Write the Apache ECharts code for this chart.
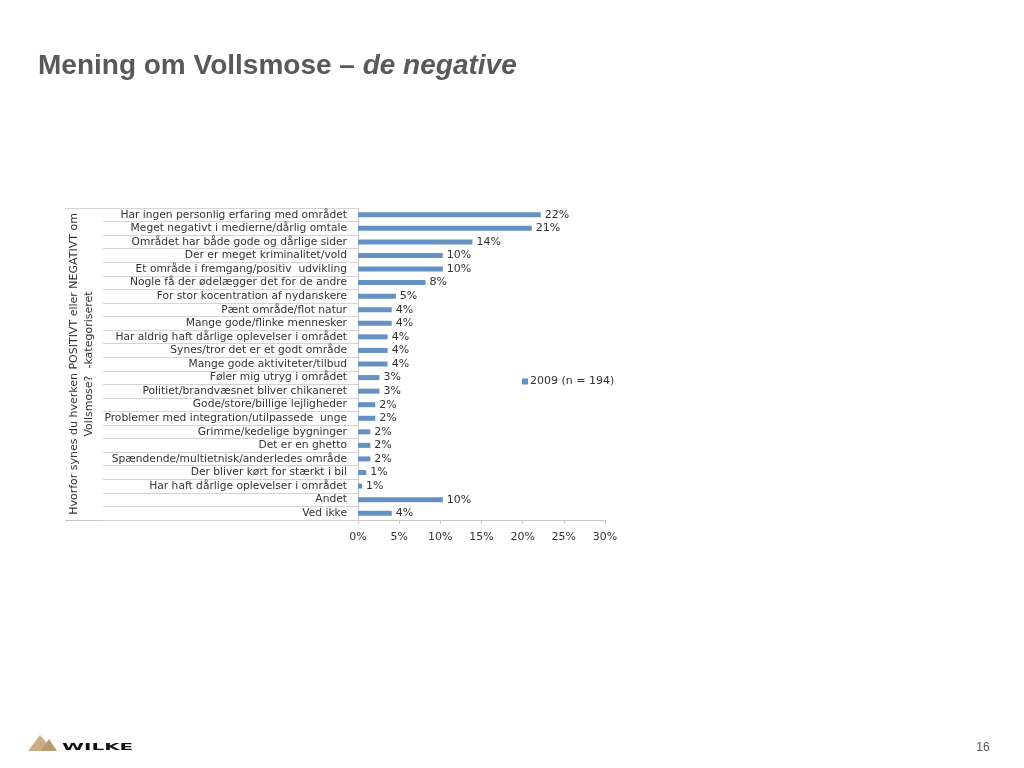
<!DOCTYPE html>
<html>
<head>
<meta charset="utf-8">
<script src="https://cdn.jsdelivr.net/npm/echarts@6/dist/echarts.min.js"></script>
<style>
html,body{margin:0;padding:0;background:#fff;}
#c{width:1024px;height:768px;}
</style>
</head>
<body>
<div id="c"></div>
<script>
var categories = [
  'Har ingen personlig erfaring med området',
  'Meget negativt i medierne/dårlig omtale',
  'Området har både gode og dårlige sider',
  'Der er meget kriminalitet/vold',
  'Et område i fremgang/positiv  udvikling',
  'Nogle få der ødelægger det for de andre',
  'For stor kocentration af nydanskere',
  'Pænt område/flot natur',
  'Mange gode/flinke mennesker',
  'Har aldrig haft dårlige oplevelser i området',
  'Synes/tror det er et godt område',
  'Mange gode aktiviteter/tilbud',
  'Føler mig utryg i området',
  'Politiet/brandvæsnet bliver chikaneret',
  'Gode/store/billige lejligheder',
  'Problemer med integration/utilpassede  unge',
  'Grimme/kedelige bygninger',
  'Det er en ghetto',
  'Spændende/multietnisk/anderledes område',
  'Der bliver kørt for stærkt i bil',
  'Har haft dårlige oplevelser i området',
  'Andet',
  'Ved ikke'
];
var values2009 = [22.2, 21.1, 13.9, 10.3, 10.3, 8.2, 4.6, 4.1, 4.1, 3.6, 3.6, 3.6, 2.6, 2.6, 2.1, 2.1, 1.5, 1.5, 1.5, 1.0, 0.5, 10.3, 4.1];
var valueLabels = ['22%','21%','14%','10%','10%','8%','5%','4%','4%','4%','4%','4%','3%','3%','2%','2%','2%','2%','2%','1%','1%','10%','4%'];
var xTicks = {min: 0, max: 30, interval: 5};
var seriesName = '2009 (n = 194)';
var axisTitle = 'Hvorfor synes du hverken POSITIVT eller NEGATIVT om\nVollsmose?  -kategoriseret';

var chart = echarts.init(document.getElementById('c'), null, {renderer: 'canvas'});
var gridLeft = 358, gridRight = 605, gridTop = 208, gridBottom = 520;
var lineColor = '#C8C8C8';
var font = 'DejaVu Sans';

chart.setOption({
  animation: false,
  backgroundColor: '#ffffff',
  title: {
    left: 33, top: 47,
    text: '{a|Mening om Vollsmose – }{b|de negative}',
    textStyle: {
      rich: {
        a: {fontFamily: 'Liberation Sans', fontWeight: 'bold', fontSize: 28, color: '#595959'},
        b: {fontFamily: 'Liberation Sans', fontWeight: 'bold', fontStyle: 'italic', fontSize: 28, color: '#595959'}
      }
    }
  },
  legend: {
    left: 517, top: 371,
    itemWidth: 6, itemHeight: 6, itemGap: 4,
    icon: 'rect',
    textStyle: {fontFamily: font, fontSize: 11, color: '#333', padding: [0,0,0,-3]},
    data: [seriesName]
  },
  grid: {left: gridLeft, top: gridTop, width: gridRight - gridLeft, height: gridBottom - gridTop, containLabel: false},
  xAxis: {
    type: 'value', min: xTicks.min, max: xTicks.max, interval: xTicks.interval,
    axisLine: {show: true, lineStyle: {color: lineColor, width: 1}},
    axisTick: {show: true, length: 4, lineStyle: {color: lineColor}},
    splitLine: {show: false},
    axisLabel: {formatter: '{value}%', fontFamily: font, fontSize: 11, color: '#333', margin: 12}
  },
  yAxis: {
    type: 'category', data: categories, inverse: true,
    axisLine: {show: true, lineStyle: {color: lineColor, width: 1}},
    axisTick: {show: true, length: 255, lineStyle: {color: '#D4D4D4', width: 1}},
    axisLabel: {fontFamily: font, fontSize: 10.7, color: '#333', margin: 11, interval: 0}
  },
  series: [{
    name: seriesName, type: 'bar', data: values2009,
    barWidth: 5,
    itemStyle: {color: '#6592C2'},
    label: {
      show: true, position: 'right', distance: 4,
      fontFamily: font, fontSize: 11, color: '#333',
      formatter: function(p){ return valueLabels[p.dataIndex]; }
    }
  }],
  graphic: [
    {type: 'line', shape: {x1: 65, y1: gridTop + 0.5, x2: gridLeft, y2: gridTop + 0.5}, style: {stroke: '#D4D4D4', lineWidth: 1}},
    {type: 'line', shape: {x1: 65, y1: gridBottom + 0.5, x2: gridLeft, y2: gridBottom + 0.5}, style: {stroke: lineColor, lineWidth: 1}},
    {type: 'text', x: 82, y: (gridTop + gridBottom) / 2, rotation: Math.PI / 2,
      style: {text: axisTitle, fontFamily: font, fontSize: 11, fill: '#333', align: 'center', verticalAlign: 'middle', lineHeight: 15}},
    {type: 'text', x: 983, y: 748, style: {text: '16', fontFamily: 'Liberation Sans', fontSize: 12, fill: '#555', align: 'center', verticalAlign: 'middle'}},
    {type: 'polygon', shape: {points: [[28,751],[40,735],[46,742],[50,751]]}, style: {fill: '#C9AE8A'}},
    {type: 'polygon', shape: {points: [[40,751],[49,739],[57,751]]}, style: {fill: '#B89B74'}},
    {type: 'text', x: 62, y: 748, scaleX: 2.1, style: {text: 'WILKE', fontFamily: 'DejaVu Sans', fontWeight: 'bold', fontSize: 9.5, fill: '#111', align: 'left', verticalAlign: 'middle'}}
  ]
});
</script>
</body>
</html>
